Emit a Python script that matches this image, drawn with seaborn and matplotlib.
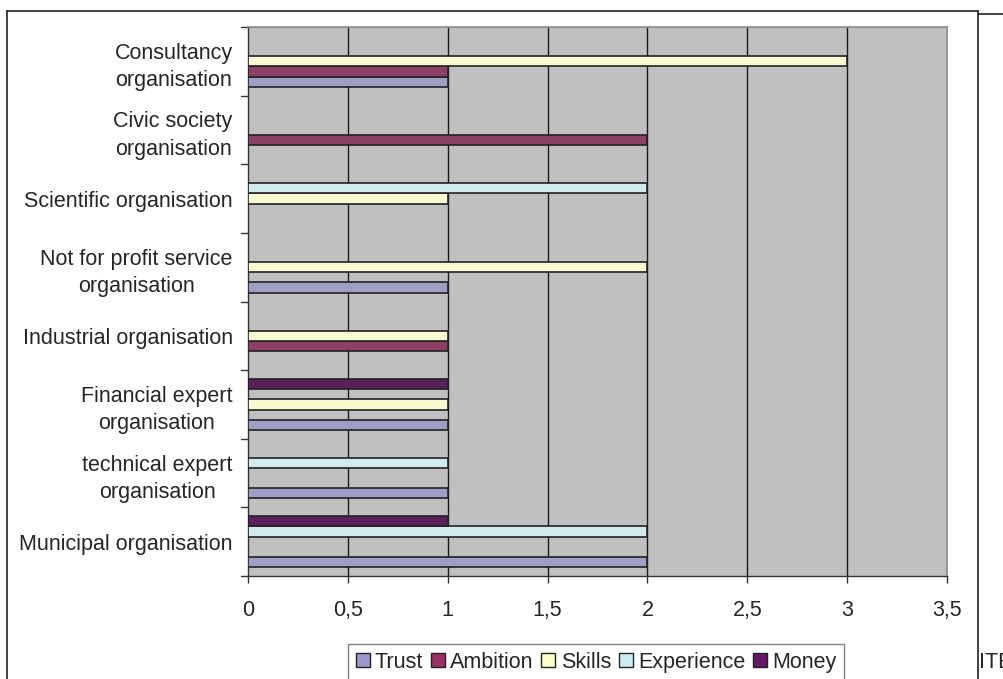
import matplotlib
matplotlib.use("Agg")
import matplotlib.pyplot as plt
from matplotlib.lines import Line2D
from matplotlib.patches import Patch
import seaborn as sns
import pandas as pd

# Categories listed from the bottom of the chart upwards
categories = [
    "Municipal organisation",
    "technical expert\norganisation",
    "Financial expert\norganisation",
    "Industrial organisation",
    "Not for profit service\norganisation",
    "Scientific organisation",
    "Civic society\norganisation",
    "Consultancy\norganisation",
]
series = ["Trust", "Ambition", "Skills", "Experience", "Money"]

trust      = [2, 1, 1, 0, 1, 0, 0, 1]
ambition   = [0, 0, 0, 1, 0, 0, 2, 1]
skills     = [0, 0, 1, 1, 2, 1, 0, 3]
experience = [2, 1, 0, 0, 0, 2, 0, 0]
money      = [1, 0, 1, 0, 0, 0, 0, 0]

colors = ["#9999CC", "#993366", "#FFFFCC", "#CCEEF2", "#661766"]
x_ticks = [0, 0.5, 1, 1.5, 2, 2.5, 3, 3.5]
x_tick_labels = ["0", "0,5", "1", "1,5", "2", "2,5", "3", "3,5"]

rows = []
for name, vals in zip(series, [trust, ambition, skills, experience, money]):
    for cat, v in zip(categories, vals):
        if v > 0:
            rows.append({"category": cat, "series": name, "value": v})
df = pd.DataFrame(rows)

sns.set_theme(style="white")
plt.rcParams["font.family"] = ["Liberation Sans", "DejaVu Sans"]
FS = 15.5

fig = plt.figure(figsize=(10.04, 6.79), dpi=100)
ax = fig.add_axes([248 / 1004, 1 - 576 / 679, 699 / 1004, 549 / 679])
ax.set_facecolor("#C0C0C0")

sns.barplot(
    data=df, y="category", x="value", hue="series",
    order=categories, hue_order=series, palette=colors,
    orient="h", width=0.74, dodge=True, ax=ax,
    edgecolor="#222222", linewidth=1.2, legend=False, zorder=3,
)

ax.set_ylim(-0.5, len(categories) - 0.5)
ax.set_xlim(0, 3.5)
ax.set_xlabel("")
ax.set_ylabel("")

# vertical gridlines
for xv in x_ticks[1:-1]:
    ax.axvline(xv, color="#1a1a1a", lw=1.0, zorder=1)

ax.set_xticks(x_ticks)
ax.set_xticklabels(x_tick_labels, fontsize=FS)
ax.set_yticks(range(len(categories)))
ax.set_yticklabels(categories, fontsize=FS, ha="right", linespacing=1.38)
for lab in ax.get_yticklabels():
    lab.set_multialignment("center")
ax.tick_params(axis="y", length=0, pad=11)
ax.tick_params(axis="x", length=5, width=1, direction="out", color="#333333",
               bottom=True, pad=12)

# boundary ticks between categories
for b in [i + 0.5 for i in range(-1, len(categories))]:
    ax.plot([-0.01, 0], [b, b], color="#333333", lw=1, transform=ax.get_yaxis_transform(),
            clip_on=False)

for s in ["left", "bottom"]:
    ax.spines[s].set_color("#333333")
    ax.spines[s].set_linewidth(1.0)
for s in ["top", "right"]:
    ax.spines[s].set_color("#8a8a8a")
    ax.spines[s].set_linewidth(1.2)

handles = [Patch(facecolor=c, edgecolor="#222222", linewidth=1.0) for c in colors]
leg = fig.legend(
    handles, series, loc="upper center", bbox_to_anchor=(596 / 1004, 1 - 644 / 679),
    ncol=5, fontsize=FS, frameon=True, fancybox=False, framealpha=1,
    handlelength=0.65, handleheight=0.65, handletextpad=0.25, columnspacing=0.35,
    borderpad=0.35, borderaxespad=0,
)
leg.get_frame().set_edgecolor("#808080")
leg.get_frame().set_linewidth(1.0)

# outer chart frame
kw = dict(color="#222222", lw=1.2, transform=fig.transFigure)
fig.add_artist(Line2D([7 / 1004, 7 / 1004], [0, 1 - 11 / 679], **kw))
fig.add_artist(Line2D([7 / 1004, 978 / 1004], [1 - 11 / 679, 1 - 11 / 679], **kw))
fig.add_artist(Line2D([978 / 1004, 978 / 1004], [0, 1 - 11 / 679], **kw))
fig.add_artist(Line2D([978 / 1004, 1], [1 - 14 / 679, 1 - 14 / 679], **kw))
fig.text(979 / 1004, 1 - 662 / 679, "ITE", fontsize=FS, ha="left", va="center")

fig.savefig("out.png", dpi=100)
